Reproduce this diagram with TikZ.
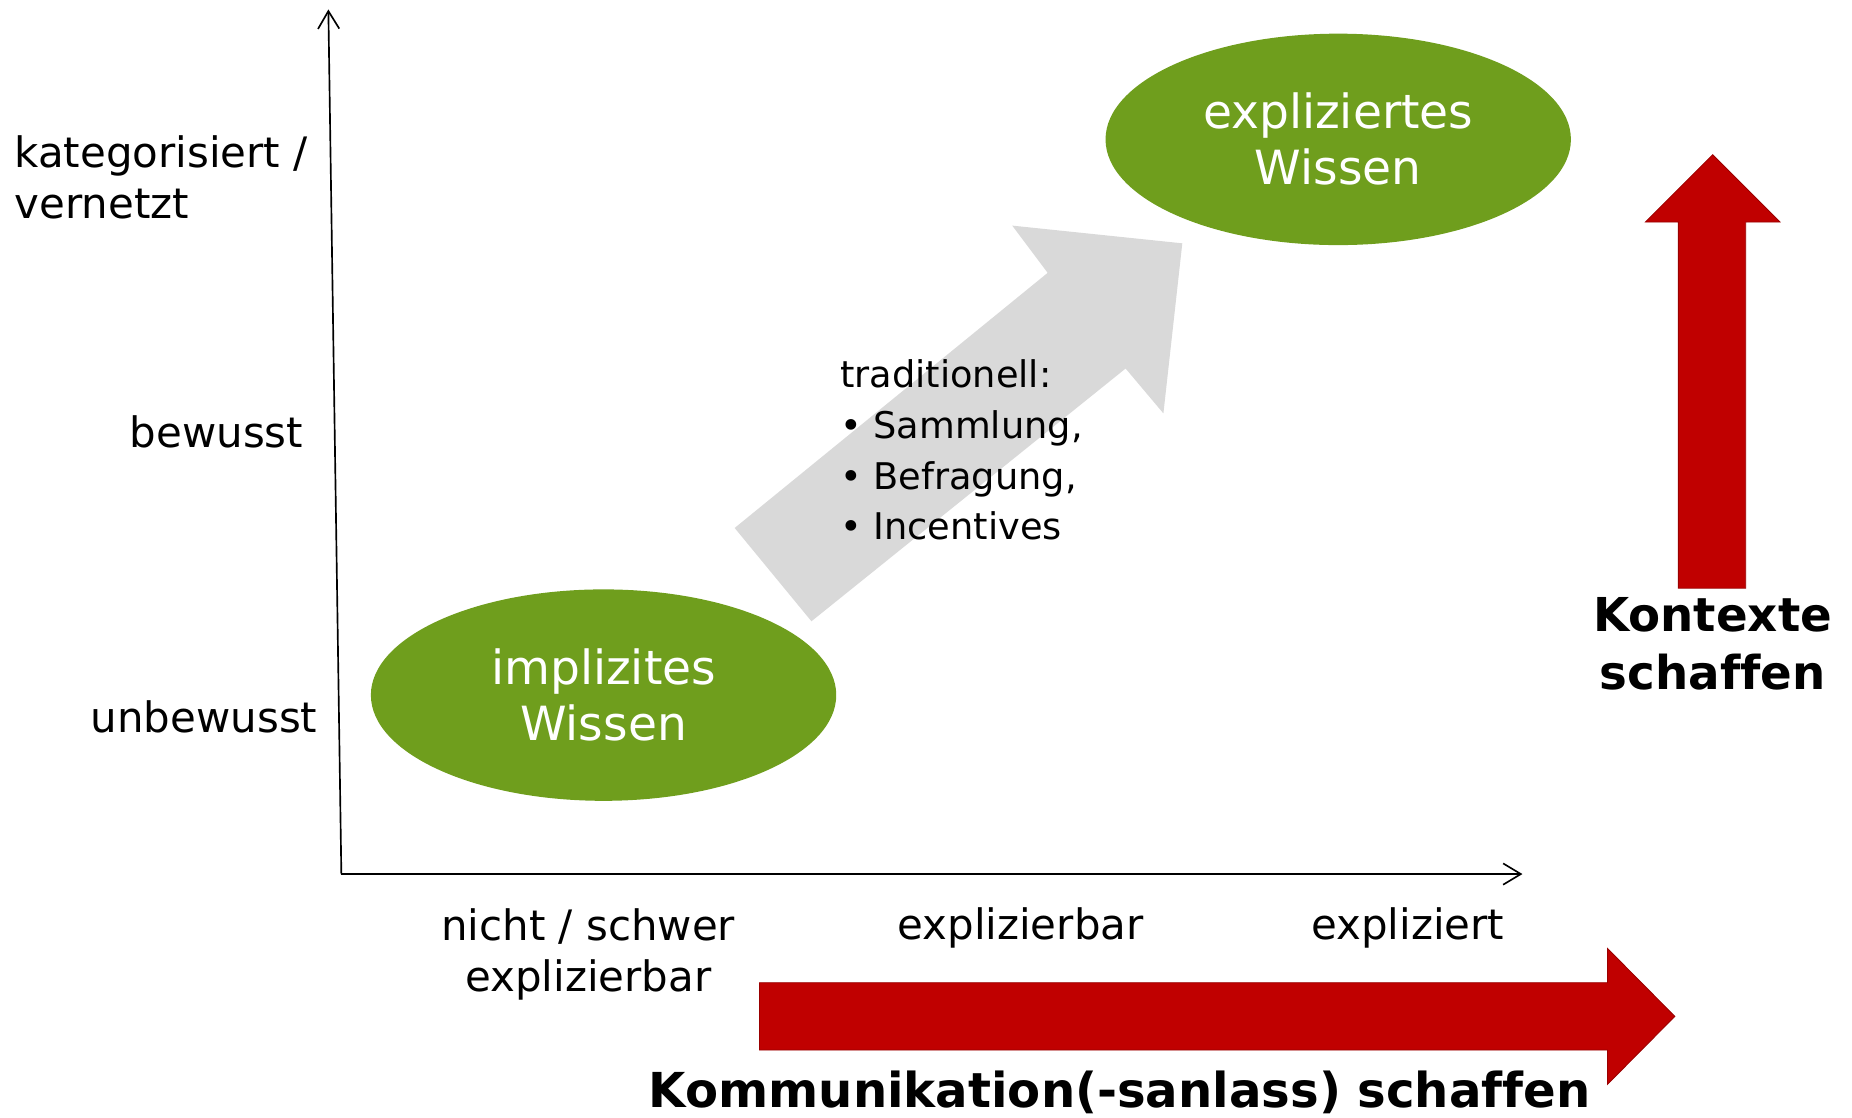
\documentclass[tikz,border=0pt]{standalone}
\usepackage{fontspec}
\setmainfont{DejaVu Sans}[Ligatures=NoCommon]
\usepackage{tikz}
\usetikzlibrary{arrows.meta, shapes.geometric}
\tikzset{>={Straight Barb[length=3mm,width=3.6mm]}}
\definecolor{wgreen}{RGB}{111,158,29}
\definecolor{wred}{RGB}{192,0,0}
\definecolor{wgray}{RGB}{217,217,217}
\tikzset{wissen/.style={ellipse, fill=wgreen, text=white, inner sep=0pt,
    minimum width=78.8mm, minimum height=35.8mm, align=center,
    font=\fontsize{22.7}{27}\selectfont}}
\tikzset{lbl/.style={inner sep=0pt, font=\fontsize{20.2}{24.4}\selectfont}}
\tikzset{blbl/.style={inner sep=0pt, align=center, font=\bfseries\fontsize{22.5}{27.8}\selectfont}}

\begin{document}
\begin{tikzpicture}[x=0.2mm, y=-0.2mm]
  \useasboundingbox (0,0) rectangle (1568,946);

  % axes
  \coordinate (O) at (289,740);
  \coordinate (YTOP) at (278,8);
  \coordinate (XEND) at (1289,740);
  \draw[->, line width=0.8pt] (O) -- (YTOP);
  \draw[->, line width=0.8pt] (O) -- (XEND);

  \node[lbl, anchor=west, align=left] (KAT) at (12,150) {kategorisiert /\\vernetzt};
  \node[lbl, anchor=east] (BEW) at (257,366) {bewusst};
  \node[lbl, anchor=east] (UNBEW) at (269,607) {unbewusst};

  \node[lbl, align=center] (NICHT) at (498,808) {nicht / schwer\\explizierbar};
  \node[lbl] (EXPBAR) at (864,786) {explizierbar};
  \node[lbl] (EXPL) at (1192,786) {expliziert};

  % grey arrow
  \fill[wgray] (622,447) -- (887,231) -- (857,191) -- (1001,206)
    -- (985,350) -- (953,312) -- (687,526) -- cycle;

  \node[wissen] (IMPL) at (511,588.5) {implizites\\Wissen};
  \node[wissen] (EXPLW) at (1133,118) {expliziertes\\Wissen};

  \node[inner sep=0pt, anchor=west, align=left,
    font=\fontsize{17.7}{24.4}\selectfont] (TRAD) at (711,381)
    {traditionell:\\\textbullet\ Sammlung,\\\textbullet\ Befragung,\\\textbullet\ Incentives};

  % red arrows
  \filldraw[fill=wred, draw=wred!80!black, line width=0.4pt]
    (643,832) -- (1361,832) -- (1361,803) -- (1418,860.5)
    -- (1361,918) -- (1361,889) -- (643,889) -- cycle;
  \filldraw[fill=wred, draw=wred!80!black, line width=0.4pt]
    (1421,498) -- (1421,188) -- (1393,188) -- (1450,131)
    -- (1507,188) -- (1478,188) -- (1478,498) -- cycle;

  \node[blbl] (KONT) at (1450,545) {Kontexte\\schaffen};
  \node[blbl, font=\bfseries\fontsize{23.2}{27.8}\selectfont] (KOMM) at (948,925)
    {Kommunikation(-sanlass) schaffen};
\end{tikzpicture}
\end{document}
